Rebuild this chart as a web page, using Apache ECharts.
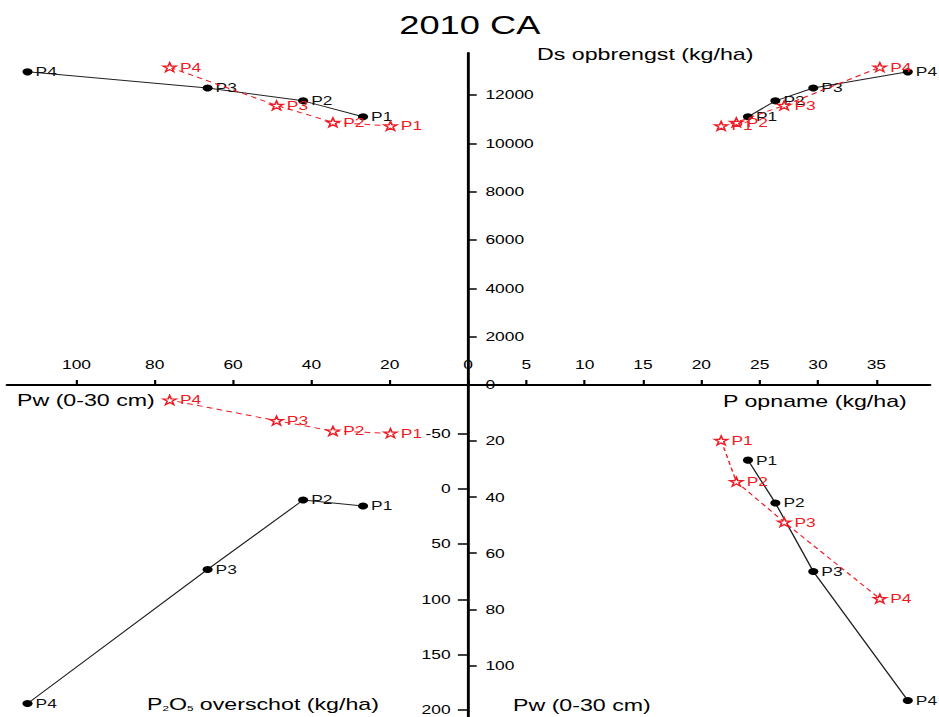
<!DOCTYPE html>
<html>
<head>
<meta charset="utf-8">
<title>2010 CA</title>
<script src="https://cdn.jsdelivr.net/npm/echarts@6/dist/echarts.min.js"></script>
<style>
  html, body { margin: 0; padding: 0; background: #fff; overflow: hidden; }
  #wrap { width: 939px; height: 717px; overflow: hidden; }
  /* the figure is laid out narrow and stretched horizontally */
  #chart { height: 717px; transform-origin: 0 0; }
</style>
</head>
<body>
<div id="wrap"><div id="chart"></div></div>
<script>
// ---- data ----
const pointNames = ['P1', 'P2', 'P3', 'P4'];

// series A (black dots, solid line)
const pwA      = [26.8, 42.1, 66.5, 112.5];     // Pw (0-30 cm)
const dsA      = [11100, 11760, 12290, 12960];  // Ds opbrengst (kg/ha)
const pUptakeA = [24.0, 26.35, 29.6, 37.7];     // P opname (kg/ha)
const p2o5A    = [15.7, 10.3, 73.0, 194.1];     // P2O5 overschot (kg/ha)

// series B (red stars, dashed line)
const pwB      = [19.8, 34.5, 48.9, 76.2];
const dsB      = [10720, 10870, 11570, 13150];
const pUptakeB = [21.7, 23.0, 27.1, 35.3];
const p2o5B    = [-50, -52, -61.4, -80];

// tick labels
const pwTicks        = [0, 20, 40, 60, 80, 100];
const pUptakeTicks   = [0, 5, 10, 15, 20, 25, 30, 35];
const pUptakeLabels  = [5, 10, 15, 20, 25, 30, 35];
const dsTicks        = [0, 2000, 4000, 6000, 8000, 10000, 12000];
const p2o5Ticks      = [-50, 0, 50, 100, 150, 200];
const pwDepthTicks   = [0, 20, 40, 60, 80, 100];
const pwDepthLabels  = [20, 40, 60, 80, 100];

// ---- layout ----
const S = 1.45;                 // horizontal stretch of the figure
const W = 939 / S;              // layout width before stretching
const AX = 468 / S;             // shared vertical axis
const LEFT = 7 / S;
const RIGHT = 930 / S;
const TOP = 53, MIDY = 385, BOT = 717;

const chartEl = document.getElementById('chart');
chartEl.style.width = W + 'px';
chartEl.style.transform = 'scaleX(' + S + ')';

const FONT = "'Liberation Sans', Arial, Helvetica, sans-serif";
const RED = '#ee1c25';
const STAR = 'path://M50,2 L61.8,36.2 L97.6,36.2 L68.6,57.5 L79.4,91.8 L50,70.6 L20.6,91.8 L31.4,57.5 L2.4,36.2 L38.2,36.2 Z';

function pairs(xs, ys) {
  return pointNames.map((n, i) => ({ name: n, value: [xs[i], ys[i]] }));
}

function blackSeries(gi, xs, ys) {
  return {
    type: 'line', xAxisIndex: gi, yAxisIndex: gi, data: pairs(xs, ys),
    symbol: 'circle', symbolSize: 7, clip: false, z: 3,
    itemStyle: { color: '#000' },
    lineStyle: { color: '#222', width: 1 },
    label: { show: true, position: 'right', distance: 2, formatter: '{b}',
             color: '#111', fontSize: 12, fontFamily: FONT },
    emphasis: { disabled: true }
  };
}

function redSeries(gi, xs, ys) {
  return {
    type: 'line', xAxisIndex: gi, yAxisIndex: gi, data: pairs(xs, ys),
    symbol: STAR, symbolSize: 9, clip: false, z: 4,
    itemStyle: { color: '#fff', borderColor: RED, borderWidth: 1.2 },
    lineStyle: { color: RED, width: 1, type: [4, 3] },
    label: { show: true, position: 'right', distance: 2, formatter: '{b}',
             color: RED, fontSize: 12, fontFamily: FONT },
    emphasis: { disabled: true }
  };
}

const axisLine = { show: true, lineStyle: { color: '#000', width: 2 } };
const labelBase = { color: '#000', fontSize: 12, fontFamily: FONT, formatter: v => String(v) };

function hiddenAxis(gi, extra) {
  return Object.assign({ gridIndex: gi, type: 'value', show: false, splitLine: { show: false } }, extra);
}

const option = {
  animation: false,
  backgroundColor: '#fff',
  title: {
    text: '2010 CA', left: 'center', top: 8,
    textStyle: { fontSize: 25, fontWeight: 'normal', color: '#000', fontFamily: FONT }
  },
  grid: [
    { left: LEFT, top: TOP, width: AX - LEFT, height: MIDY - TOP, outerBoundsMode: 'none' },
    { left: AX, top: TOP, width: RIGHT - AX, height: MIDY - TOP, outerBoundsMode: 'none' },
    { left: LEFT, top: MIDY, width: AX - LEFT, height: BOT - MIDY, outerBoundsMode: 'none' },
    { left: AX, top: MIDY, width: RIGHT - AX, height: BOT - MIDY, outerBoundsMode: 'none' }
  ],
  xAxis: [
    { gridIndex: 0, type: 'value', inverse: true, min: 0, max: 117.75, position: 'bottom',
      axisLine: axisLine, splitLine: { show: false },
      axisTick: { show: true, inside: true, length: 5, customValues: pwTicks,
                  lineStyle: { color: '#000', width: 1.5 } },
      axisLabel: Object.assign({ inside: true, margin: 14, customValues: pwTicks }, labelBase) },
    { gridIndex: 1, type: 'value', min: 0, max: 39.6, position: 'bottom',
      axisLine: axisLine, splitLine: { show: false },
      axisTick: { show: true, inside: true, length: 5, customValues: pUptakeTicks,
                  lineStyle: { color: '#000', width: 1.5 } },
      axisLabel: Object.assign({ inside: true, margin: 14, customValues: pUptakeLabels }, labelBase) },
    hiddenAxis(2, { inverse: true, min: 0, max: 117.75 }),
    hiddenAxis(3, { min: 0, max: 39.6 })
  ],
  yAxis: [
    { gridIndex: 0, type: 'value', min: 0, max: 13740, position: 'right',
      axisLine: axisLine, splitLine: { show: false },
      axisTick: { show: true, inside: false, length: 6, customValues: dsTicks,
                  lineStyle: { color: '#000', width: 1.5 } },
      axisLabel: Object.assign({ inside: false, margin: 12, customValues: dsTicks }, labelBase) },
    hiddenAxis(1, { min: 0, max: 13740 }),
    { gridIndex: 2, type: 'value', inverse: true, min: -93.6, max: 206.3, position: 'right',
      axisLine: axisLine, splitLine: { show: false },
      axisTick: { show: true, inside: true, length: 7, customValues: p2o5Ticks,
                  lineStyle: { color: '#000', width: 1.5 } },
      axisLabel: Object.assign({ inside: true, margin: 12, customValues: p2o5Ticks }, labelBase) },
    { gridIndex: 3, type: 'value', inverse: true, min: 0, max: 118.4, position: 'left',
      axisLine: { show: false }, splitLine: { show: false },
      axisTick: { show: true, inside: true, length: 6, customValues: pwDepthTicks,
                  lineStyle: { color: '#000', width: 1.5 } },
      axisLabel: Object.assign({ inside: true, margin: 12, customValues: pwDepthLabels }, labelBase) }
  ],
  graphic: [
    { type: 'text', x: 537 / S, y: 54,
      style: { text: 'Ds opbrengst (kg/ha)', fill: '#000', fontSize: 16, fontFamily: FONT,
               align: 'left', verticalAlign: 'middle' } },
    { type: 'text', x: 17 / S, y: 400,
      style: { text: 'Pw (0-30 cm)', fill: '#000', fontSize: 16, fontFamily: FONT,
               align: 'left', verticalAlign: 'middle' } },
    { type: 'text', x: 723 / S, y: 401,
      style: { text: 'P opname (kg/ha)', fill: '#000', fontSize: 16, fontFamily: FONT,
               align: 'left', verticalAlign: 'middle' } },
    { type: 'text', x: 147 / S, y: 704,
      style: { text: 'P{sub|2}O{sub|5} overschot (kg/ha)', fill: '#000', fontSize: 16, fontFamily: FONT,
               align: 'left', verticalAlign: 'middle',
               rich: { sub: { fontSize: 8, fill: '#000', fontFamily: FONT, verticalAlign: 'bottom', lineHeight: 8 } } } },
    { type: 'text', x: 513 / S, y: 705,
      style: { text: 'Pw (0-30 cm)', fill: '#000', fontSize: 16, fontFamily: FONT,
               align: 'left', verticalAlign: 'middle' } }
  ],
  series: [
    blackSeries(0, pwA, dsA),
    redSeries(0, pwB, dsB),
    blackSeries(1, pUptakeA, dsA),
    redSeries(1, pUptakeB, dsB),
    blackSeries(2, pwA, p2o5A),
    redSeries(2, pwB, p2o5B),
    blackSeries(3, pUptakeA, pwA),
    redSeries(3, pUptakeB, pwB)
  ]
};

const chart = echarts.init(chartEl, null, { renderer: 'svg' });
chart.setOption(option);
</script>
</body>
</html>
